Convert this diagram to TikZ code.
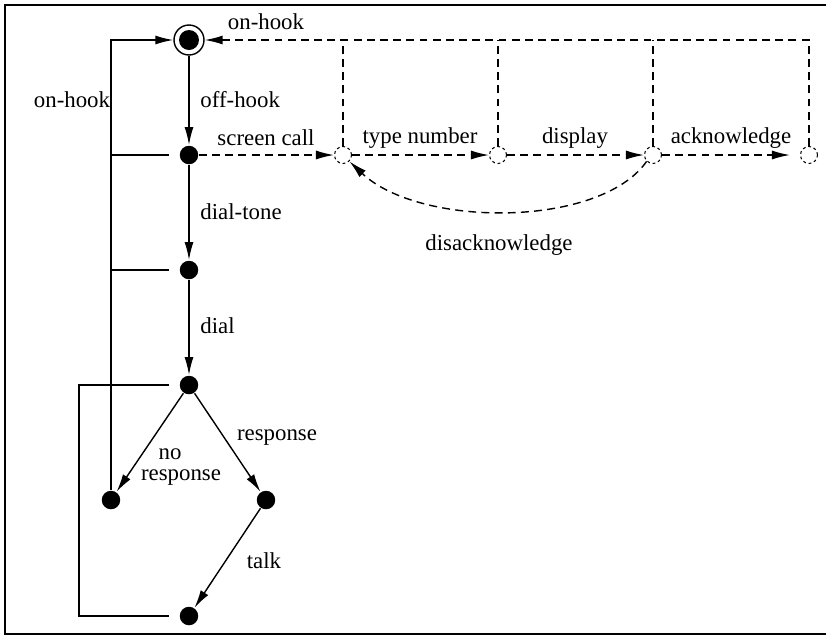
\documentclass[tikz,border=0pt]{standalone}
\usepackage{fontspec}
\setmainfont{Liberation Serif}
\usetikzlibrary{arrows.meta}

\begin{document}
\begin{tikzpicture}[x=0.02cm,y=-0.02cm,line width=0.8pt,
    >={Latex[length=0.36cm,width=0.18cm]},
    state/.style={circle,fill,inner sep=0pt,minimum size=0.37cm},
    initstate/.style={circle,draw,inner sep=0pt,minimum size=0.6cm,
      path picture={\fill (path picture bounding box.center) circle (0.2cm);}},
    ghost/.style={circle,draw,line width=0.6pt,dash pattern=on 1.6pt off 1.6pt,
      inner sep=0pt,minimum size=0.34cm},
    lbl/.style={font=\fontsize{13}{13}\selectfont,inner sep=1pt},
    screenline/.style={dash pattern=on 4.5pt off 3pt}]
    \path[use as bounding box] (0,0) rectangle (826,637);
    % Frame
    \draw[line width=1.3pt] (826,5) -- (5,5) -- (5,634) -- (826,634);

    % States
    \node[initstate] (s0) at (189,40) {};
    \node[state] (s1) at (189,155) {};
    \node[state] (s2) at (189,270) {};
    \node[state] (s3) at (189,385) {};
    \node[state] (s4) at (111,500) {};
    \node[state] (s5) at (266,500) {};
    \node[state] (s6) at (189,616) {};

    % Screening states
    \node[ghost] (d1) at (343,155) {};
    \node[ghost] (d2) at (498,155) {};
    \node[ghost] (d3) at (653,155) {};
    \node[ghost] (d4) at (809,155) {};

    % Main path
    \draw[->] (s0) -- (s1);
    \draw[->] (s1) -- (s2);
    \draw[->] (s2) -- (s3);
    \draw[->] (s3) -- (s4);
    \draw[->] (s3) -- (s5);
    \draw[->] (s5) -- (s6);

    % Hanging up
    \draw[->] (s4.north) -- (s4.north |- s0) -- (s0);
    \draw[shorten <=6pt] (s1.west) -- (s1.west -| s4);
    \draw[shorten <=6pt] (s2.west) -- (s2.west -| s4);
    \draw[shorten <=6pt,shorten >=6pt] (s6.west) -- ++(-100,0) |- (s3.west);

    % Call screening
    \draw[screenline,->] (s1) -- (d1);
    \draw[screenline,->] (d1) -- (d2);
    \draw[screenline,->] (d2) -- (d3);
    \draw[screenline,->,shorten >=0.2cm] (d3) -- (d4);
    \draw[screenline,->] (d4.north) |- (s0.east);
    \draw[screenline] (d1.north) -- (d1.north |- s0);
    \draw[screenline] (d2.north) -- (d2.north |- s0);
    \draw[screenline] (d3.north) -- (d3.north |- s0);
    \draw[screenline,->] (d3.south west) .. controls (600,228) and (420,228) .. (d1.south east);

    % Labels
    \node[lbl] (l0) at (266,22) {on-hook};
    \node[lbl] (l1) at (72,100) {on-hook};
    \node[lbl,anchor=west] (l2) at (198,100) {off-hook};
    \node[lbl,anchor=west] (l3) at (198,212) {dial-tone};
    \node[lbl,anchor=west] (l4) at (198,326) {dial};
    \node[lbl] (l5) at (277,438) {response};
    \node[lbl,inner sep=0pt] (l6) at (170,454) {no};
    \node[lbl,inner sep=0pt] (l6b) at (181,478) {response};
    \node[lbl] (l7) at (264,561) {talk};
    \node[lbl] (l8) at (266,138) {screen call};
    \node[lbl] (l9) at (420,138) {type number};
    \node[lbl] (l10) at (575,138) {display};
    \node[lbl] (l11) at (731,138) {acknowledge};
    \node[lbl] (l12) at (499,245) {disacknowledge};
  \end{tikzpicture}
\end{document}
